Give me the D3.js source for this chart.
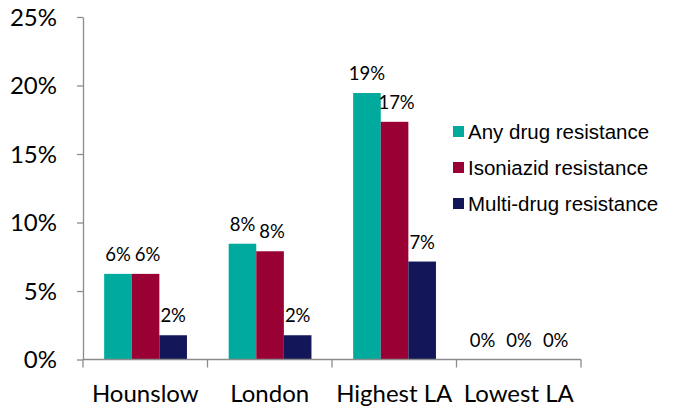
<!DOCTYPE html>
<html>
<head>
<meta charset="utf-8">
<script src="https://cdn.jsdelivr.net/npm/d3@7.9.0/dist/d3.min.js"></script>
<style>
  body { margin: 0; background: #fff; }
  svg { display: block; }
  .axis path, .axis line { stroke: #8c8c8c; stroke-width: 1.3; }
  .axis text { font-family: Lato, "Open Sans", sans-serif; font-size: 24px; fill: #000; }
  .val { font-family: Lato, "Open Sans", sans-serif; font-size: 18.5px; fill: #000; }
  .legend text { font-family: "Liberation Sans", Arial, sans-serif; font-size: 20.5px; fill: #000; }
</style>
</head>
<body>
<svg width="679" height="408"></svg>
<script>
const categories = ['Hounslow', 'London', 'Highest LA', 'Lowest LA'];
const seriesNames = ['Any drug resistance', 'Isoniazid resistance', 'Multi-drug resistance'];
const anyDrug = [6.25, 8.45, 19.45, 0];
const isoniazid = [6.25, 7.9, 17.35, 0];
const multiDrug = [1.77, 1.77, 7.15, 0];
const yTicks = [0, 5, 10, 15, 20, 25];
const colors = ['#00ab9d', '#990033', '#131659'];

const series = [anyDrug, isoniazid, multiDrug];

let svg = d3.select('svg');

let x = d3.scaleBand().domain(categories).range([83, 581]);
let x1 = d3.scaleBand().domain(d3.range(series.length))
    .range([x.bandwidth() * 0.17, x.bandwidth() * 0.835]);
let y = d3.scaleLinear().domain([0, 25]).range([359.5, 17]);

// y axis
let yAxis = svg.append('g')
    .attr('class', 'axis')
    .attr('transform', 'translate(83,0)')
    .call(d3.axisLeft(y).tickValues(yTicks).tickFormat(d => d + '%').tickSize(6).tickSizeOuter(0).tickPadding(20));
yAxis.selectAll('text').attr('dy', '0.35em');

// bars
categories.forEach((cat, i) => {
    series.forEach((vals, s) => {
        svg.append('rect')
           .attr('x', x(cat) + x1(s))
           .attr('y', y(vals[i]))
           .attr('width', x1.bandwidth())
           .attr('height', y(0) - y(vals[i]))
           .attr('fill', colors[s]);
    });
});

// x axis, ticks between categories
let xAxis = svg.append('g').attr('class', 'axis');
xAxis.append('line')
    .attr('x1', 83).attr('x2', 581)
    .attr('y1', y(0)).attr('y2', y(0));
let bounds = categories.map(c => x(c)).concat([x(categories[categories.length - 1]) + x.bandwidth()]);
bounds.forEach(b => {
    xAxis.append('line')
        .attr('x1', b).attr('x2', b)
        .attr('y1', y(0)).attr('y2', y(0) + 8);
});
categories.forEach(c => {
    xAxis.append('text')
        .attr('x', x(c) + x.bandwidth() / 2)
        .attr('y', 402)
        .attr('text-anchor', 'middle')
        .text(c);
});

// value labels
categories.forEach((cat, i) => {
    series.forEach((vals, s) => {
        let spread = vals[i] === 0 ? (s - 1) * 9 : (s === 1 ? 2 : 0);
        svg.append('text')
           .attr('class', 'val')
           .attr('x', x(cat) + x1(s) + x1.bandwidth() / 2 + spread)
           .attr('y', y(vals[i]) - 13)
           .attr('text-anchor', 'middle')
           .text(Math.round(vals[i]) + '%');
    });
});

// legend
let legend = svg.append('g').attr('class', 'legend');
seriesNames.forEach((name, s) => {
    let ly = 139 + s * 36;
    legend.append('rect')
        .attr('x', 453).attr('y', ly - 13)
        .attr('width', 11).attr('height', 11)
        .attr('fill', colors[s]);
    legend.append('text')
        .attr('x', 468).attr('y', ly)
        .text(name);
});
</script>
</body>
</html>
